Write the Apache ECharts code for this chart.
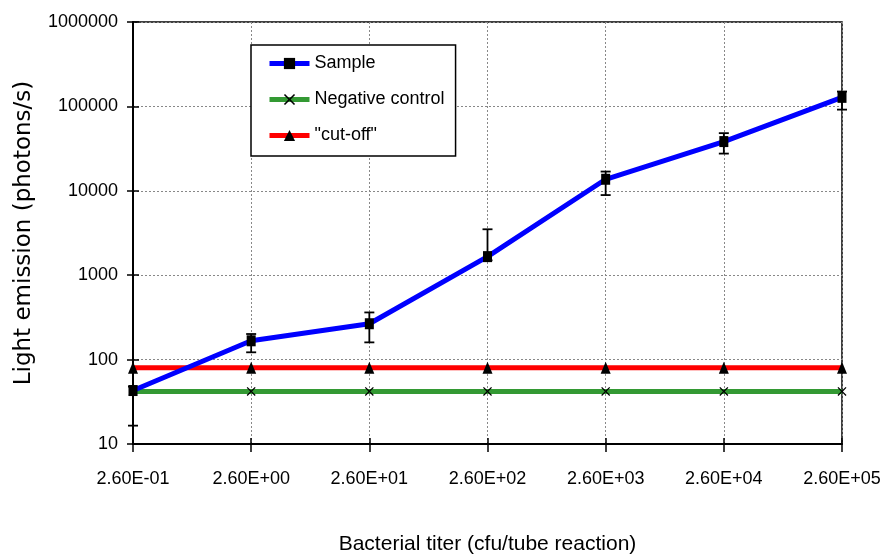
<!DOCTYPE html>
<html>
<head>
<meta charset="utf-8">
<script src="https://cdn.jsdelivr.net/npm/echarts@6/dist/echarts.min.js"></script>
<style>
html,body{margin:0;padding:0;background:#fff;}
#chart{width:883px;height:558px;}
</style>
</head>
<body>
<div id="chart"></div>
<script>
const categories = ['2.60E-01','2.60E+00','2.60E+01','2.60E+02','2.60E+03','2.60E+04','2.60E+05'];
const sampleValues = [43, 167, 266, 1660, 13700, 38300, 128000];
const sampleLow   = [16.5, 122, 160, 1500, 8900, 27600, 91600];
const sampleHigh  = [48, 201, 362, 3500, 16900, 48200, 150000];
const negativeControl = [42, 42, 42, 42, 42, 42, 42];
const cutOff = [80, 80, 80, 80, 80, 80, 80];
const yTickLabels = ['10','100','1000','10000','100000','1000000'];

const FONT = '"Liberation Sans", Arial, sans-serif';
const xSymbol = 'path://M0,1 L1,0 L5,4 L9,0 L10,1 L6,5 L10,9 L9,10 L5,6 L1,10 L0,9 L4,5 Z';

const errData = categories.map((c, i) => [i, sampleLow[i], sampleHigh[i]]);

const chart = echarts.init(document.getElementById('chart'), null, {renderer: 'canvas'});
chart.setOption({
  animation: false,
  backgroundColor: '#fff',
  grid: {left: 133, right: 41, top: 22, bottom: 114, show: true, borderColor: '#000', borderWidth: 1.5,
         backgroundColor: 'transparent', containLabel: false, outerBoundsMode: 'none'},
  legend: {
    left: 251, top: 45,
    orient: 'vertical',
    data: ['Sample', 'Negative control', '"cut-off"'],
    backgroundColor: '#fff',
    borderColor: '#000', borderWidth: 1.5, borderRadius: 0,
    padding: [9, 11, 11, 16],
    itemWidth: 40, itemHeight: 14, itemGap: 17,
    lineStyle: {width: 5},
    textStyle: {fontFamily: FONT, fontSize: 18, color: '#000', lineHeight: 19},
    z: 20
  },
  xAxis: [{
    type: 'category', data: categories, boundaryGap: false,
    axisLine: {lineStyle: {color: '#000', width: 2}},
    axisTick: {show: true, inside: false, length: 8, interval: 0, lineStyle: {color: '#000', width: 1.5}},
    axisLabel: {fontFamily: FONT, fontSize: 18, color: '#000', margin: 26, interval: 0, hideOverlap: false},
    splitLine: {show: true, interval: 0, lineStyle: {color: '#888', type: [2, 2], width: 1}},
    name: 'Bacterial titer (cfu/tube reaction)', nameLocation: 'middle', nameGap: 90, nameMoveOverlap: false,
    nameTextStyle: {fontFamily: FONT, fontSize: 21, color: '#000'}
  }, {
    type: 'category', data: categories, boundaryGap: false, position: 'bottom',
    axisLine: {show: false},
    axisTick: {show: true, inside: true, length: 6, interval: 0, lineStyle: {color: '#000', width: 1.5}},
    axisLabel: {show: false}, splitLine: {show: false}
  }],
  yAxis: [{
    type: 'log', logBase: 10, min: 10, max: 1000000,
    axisLine: {show: true, lineStyle: {color: '#000', width: 2}},
    axisTick: {show: true, inside: false, length: 6, lineStyle: {color: '#000', width: 1.5}},
    axisLabel: {fontFamily: FONT, fontSize: 18, color: '#000', margin: 15,
      formatter: function (v) { const i = Math.round(Math.log10(v)) - 1; return yTickLabels[i] !== undefined ? yTickLabels[i] : ''; }},
    splitLine: {show: true, lineStyle: {color: '#888', type: [2, 2], width: 1}},
    name: 'Light emission (photons/s)', nameLocation: 'middle', nameGap: 97, nameMoveOverlap: false,
    nameTextStyle: {fontFamily: '"DejaVu Sans", sans-serif', fontSize: 23, color: '#000'}
  }, {
    type: 'log', logBase: 10, min: 10, max: 1000000, position: 'left',
    axisLine: {show: false},
    axisTick: {show: true, inside: true, length: 6, lineStyle: {color: '#000', width: 1.5}},
    axisLabel: {show: false}, splitLine: {show: false}
  }],
  series: [
    {
      name: 'Negative control', type: 'line', data: negativeControl,
      symbol: xSymbol, symbolSize: 9, showAllSymbol: true,
      lineStyle: {color: '#339933', width: 5},
      itemStyle: {color: '#000', borderWidth: 0},
      z: 3
    },
    {
      name: '"cut-off"', type: 'line', data: cutOff,
      symbol: 'triangle', symbolSize: [10, 12], showAllSymbol: true,
      lineStyle: {color: '#ff0000', width: 5},
      itemStyle: {color: '#000', borderWidth: 0},
      z: 4
    },
    {
      name: 'errorbars', type: 'custom', data: errData,
      encode: {x: 0, y: [1, 2]},
      renderItem: function (params, api) {
        const i = api.value(0);
        const lo = api.coord([i, api.value(1)]);
        const hi = api.coord([i, api.value(2)]);
        const w = 5;
        const st = {stroke: '#000', lineWidth: 1.8, fill: null};
        return {type: 'group', children: [
          {type: 'line', shape: {x1: lo[0], y1: lo[1], x2: hi[0], y2: hi[1]}, style: st},
          {type: 'line', shape: {x1: lo[0]-w, y1: lo[1], x2: lo[0]+w, y2: lo[1]}, style: st},
          {type: 'line', shape: {x1: hi[0]-w, y1: hi[1], x2: hi[0]+w, y2: hi[1]}, style: st}
        ]};
      },
      z: 5
    },
    {
      name: 'Sample', type: 'line', data: sampleValues,
      symbol: 'rect', symbolSize: [9, 11], showAllSymbol: true,
      lineStyle: {color: '#0000ff', width: 5},
      itemStyle: {color: '#000', borderWidth: 0},
      z: 6
    }
  ]
});
</script>
</body>
</html>
